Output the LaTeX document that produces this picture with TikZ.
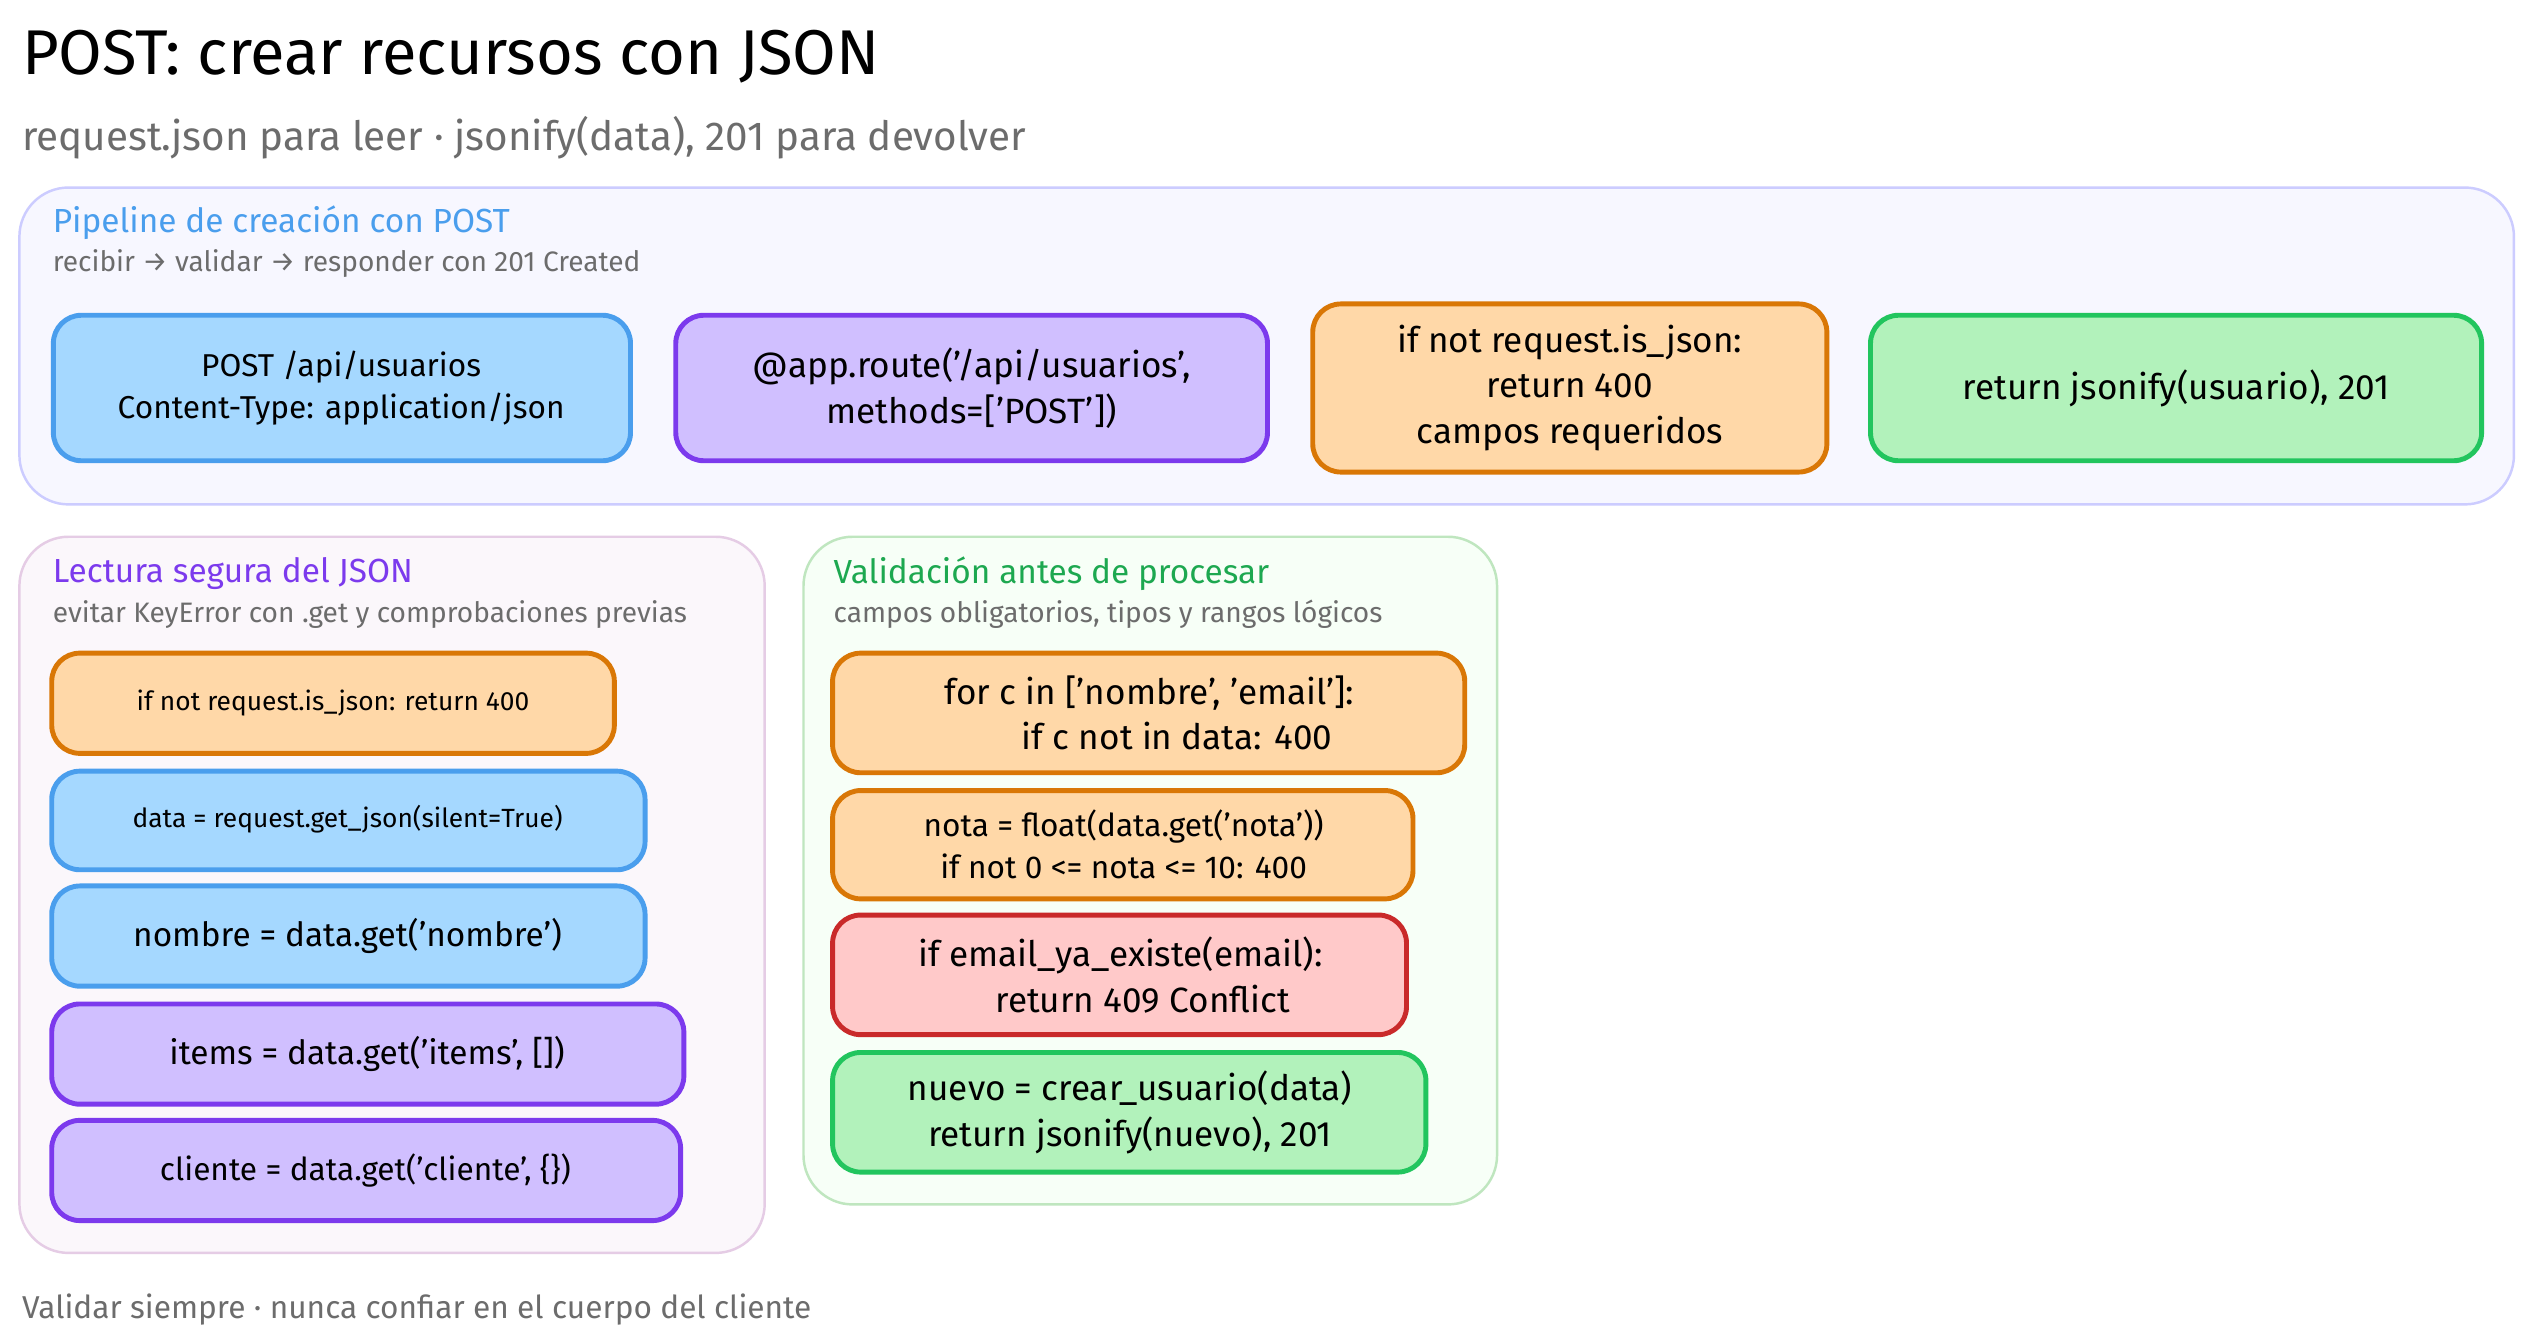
\documentclass[tikz,border=0pt]{standalone}
\usepackage{fontspec}
\setmainfont{Fira Sans}
\begin{document}
\begin{tikzpicture}[x=0.01617cm,y=-0.01617cm,
 grp/.style={rounded corners=14pt,line width=0.7pt},
 bx/.style={rounded corners=8pt,line width=1.4pt,align=center},
 blue/.style={bx,fill=cbf,draw=cbd}, purp/.style={bx,fill=cpf,draw=cpd},
 orng/.style={bx,fill=cof,draw=cod}, red/.style={bx,fill=crf,draw=crd},
 grn/.style={bx,fill=cgf,draw=cgd},
 t/.style={align=center},
 gt/.style={anchor=west,font=\fontsize{9.5}{11}\selectfont},
 gs/.style={anchor=west,text=gray!85!black,font=\fontsize{8}{10}\selectfont}]
\definecolor{cbf}{HTML}{A5D8FF}\definecolor{cbd}{HTML}{4A9EED}
\definecolor{cpf}{HTML}{D0BFFF}\definecolor{cpd}{HTML}{7C3AED}
\definecolor{cof}{HTML}{FFD8A8}\definecolor{cod}{HTML}{D97706}
\definecolor{crf}{HTML}{FFC9C9}\definecolor{crd}{HTML}{C92A2A}
\definecolor{cgf}{HTML}{B2F2BB}\definecolor{cgd}{HTML}{22C55E}
\useasboundingbox[fill=white] (0,0) rectangle (1560,830.7);
% title
\node[anchor=west,font=\fontsize{18}{20}\selectfont] (title) at (6,35) {POST: crear recursos con JSON};
\node[anchor=west,text=gray!85!black,font=\fontsize{11.5}{13}\selectfont] (sub) at (6,85) {request.json para leer · jsonify(data), 201 para devolver};
% group 1
\draw[grp,fill=blue!3,draw=blue!20] (12,116) rectangle (1555,312);
\node[gt,text=cbd] (g1t) at (25,138) {Pipeline de creación con POST};
\node[gs] (g1s) at (25,163) {recibir → validar → responder con 201 Created};
\path[blue] (33,195) rectangle (390,285);
\node[t,font=\fontsize{9}{12}\selectfont] (a) at (211,240) {POST /api/usuarios\\Content-Type: application/json};
\path[purp] (418,195) rectangle (784,285);
\node[t,font=\fontsize{10}{13}\selectfont] (b) at (601,240) {@app.route('/api/usuarios',\\methods=['POST'])};
\path[orng] (812,188) rectangle (1130,292);
\node[t,font=\fontsize{10}{13}\selectfont] (c) at (971,240) {if not request.is\_json:\\return 400\\campos requeridos};
\path[grn] (1157,195) rectangle (1535,285);
\node[font=\fontsize{10}{13}\selectfont] (d) at (1346,240) {return jsonify(usuario), 201};
% group 2
\draw[grp,fill=violet!3,draw=violet!20] (12,332) rectangle (473,775);
\node[gt,text=cpd] (g2t) at (25,355) {Lectura segura del JSON};
\node[gs] (g2s) at (25,380) {evitar KeyError con .get y comprobaciones previas};
\path[orng] (32,404) rectangle (380,466);
\node[font=\fontsize{7.5}{9}\selectfont] (e1) at (206,435) {if not request.is\_json: return 400};
\path[blue] (32,477) rectangle (399,538);
\node[font=\fontsize{7.5}{9}\selectfont] (e2) at (215,507) {data = request.get\_json(silent=True)};
\path[blue] (32,548) rectangle (399,610);
\node[font=\fontsize{9.5}{11}\selectfont] (e3) at (215,579) {nombre = data.get('nombre')};
\path[purp] (32,621) rectangle (423,683);
\node[font=\fontsize{9.5}{11}\selectfont] (e4) at (227,652) {items = data.get('items', [])};
\path[purp] (32,693) rectangle (421,755);
\node[font=\fontsize{9}{11}\selectfont] (e5) at (226,724) {cliente = data.get('cliente', \{\})};
% group 3
\draw[grp,fill=green!3,draw=green!60!black!25] (497,332) rectangle (926,745);
\node[gt,text=cgd!85!black] (g3t) at (508,355) {Validación antes de procesar};
\node[gs] (g3s) at (508,380) {campos obligatorios, tipos y rangos lógicos};
\path[orng] (515,404) rectangle (906,478);
\node[font=\fontsize{10}{13}\selectfont,align=left] (f1) at (711,441) {for c in ['nombre', 'email']:\\\hspace*{2.2em}if c not in data: 400};
\path[orng] (515,489) rectangle (874,556);
\node[t,font=\fontsize{9}{12}\selectfont] (f2) at (695,522) {nota = float(data.get('nota'))\\if not 0 <= nota <= 10: 400};
\path[red] (515,566) rectangle (870,640);
\node[font=\fontsize{10}{13}\selectfont,align=left] (f3) at (693,603) {if email\_ya\_existe(email):\\\hspace*{2.2em}return 409 Conflict};
\path[grn] (515,651) rectangle (882,725);
\node[t,font=\fontsize{10}{13}\selectfont] (f4) at (699,688) {nuevo = crear\_usuario(data)\\return jsonify(nuevo), 201};
% footer
\node[anchor=west,text=gray!85!black,font=\fontsize{9}{11}\selectfont] (foot) at (6,810) {Validar siempre · nunca confiar en el cuerpo del cliente};
\end{tikzpicture}
\end{document}
